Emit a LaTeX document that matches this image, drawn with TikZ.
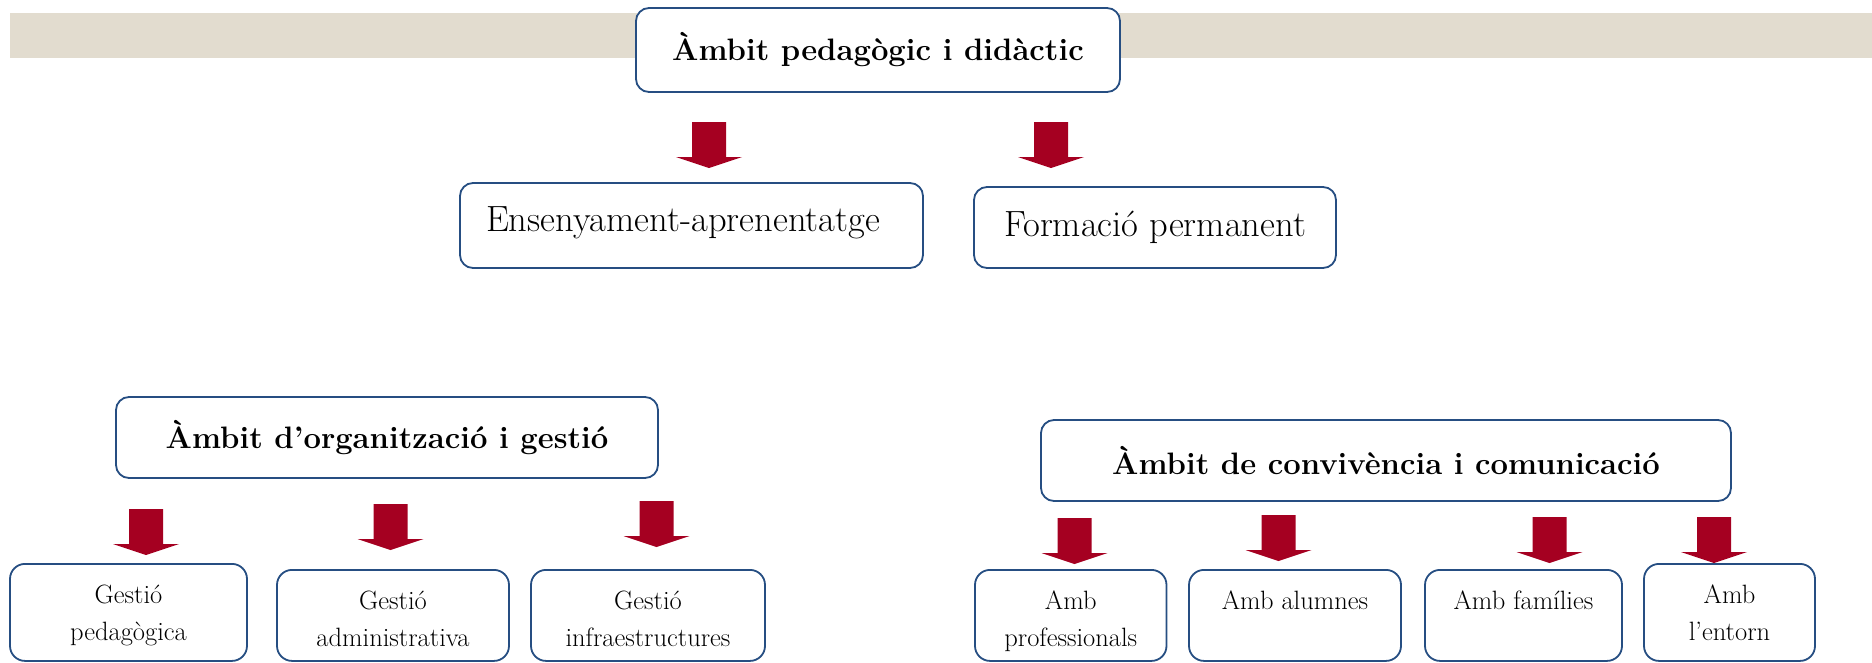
\documentclass[tikz,border=0pt]{standalone}
\usepackage{fontspec}
\usetikzlibrary{positioning}

\definecolor{boxblue}{RGB}{38,78,130}
\definecolor{arrowred}{RGB}{165,0,33}
\definecolor{bandbeige}{RGB}{226,220,207}

\tikzset{
  ambit/.style={draw=boxblue, line width=1.8pt, rounded corners=13pt, fill=white,
    inner sep=0pt, font=\fontsize{31}{36}\selectfont\bfseries},
  subambit/.style={draw=boxblue, line width=1.8pt, rounded corners=13pt, fill=white,
    inner sep=0pt, minimum height=81pt, font=\fontsize{36.5}{40}\selectfont},
  leaf/.style={draw=boxblue, line width=1.8pt, rounded corners=15pt, fill=white,
    anchor=north, align=center, inner xsep=4pt, inner ysep=5pt,
    text height=35pt, text depth=46pt, font=\fontsize{26.5}{37}\selectfont},
  twoleaf/.style={leaf, text height=72pt, text depth=9pt},
  talleaf/.style={leaf, text height=72pt, text depth=15pt},
  downarrow/.pic={\fill[arrowred] (-17,0) -- (17,0) -- (17,35) -- (33,35) -- (0,46)
    -- (-33,35) -- (-17,35) -- cycle;}
}

\begin{document}
\begin{tikzpicture}[x=1pt,y=-1pt]
\useasboundingbox (0,0) rectangle (1872,662);
\clip (0,0) rectangle (1872,662);
% franja de fons
\fill[bandbeige] (9.5,12.7) rectangle (1872,57.7);
% ambit pedagogic
\node[ambit, minimum width=484pt, minimum height=84pt] (ped) at (878,50) {Àmbit pedagògic i didàctic};
\pic (arrEns) at (709,122) {downarrow};
\pic (arrFor) at (1051,122) {downarrow};
\node[subambit, inner xsep=26pt, text width=411pt, align=left, text height=48.5pt, text depth=36.5pt] (ens) at (691.5,225.5) {Ensenyament-aprenentatge};
\node[subambit, minimum width=362pt] (for) at (1155,227.5) {Formació permanent};
% ambit d'organitzacio
\node[ambit, minimum width=542pt, minimum height=81pt] (org) at (387,437.5) {Àmbit d’organització i gestió};
\pic (arrPed) at (146,509) {downarrow};
\pic (arrAdm) at (390.5,504) {downarrow};
\pic (arrInf) at (656.5,501) {downarrow};
\node[talleaf, minimum width=237pt] (gped) at (128.5,563) {Gestió\\pedagògica};
\node[twoleaf, minimum width=232pt] (gadm) at (393,569) {Gestió\\administrativa};
\node[twoleaf, minimum width=234pt] (ginf) at (648,569) {Gestió\\infraestructures};
% ambit de convivencia
\node[ambit, minimum width=690pt, minimum height=81pt] (con) at (1386,460.5) {Àmbit de convivència i comunicació};
\pic (arrPro) at (1074.5,518) {downarrow};
\pic (arrAlu) at (1278.5,515) {downarrow};
\pic (arrFam) at (1549.5,517) {downarrow};
\pic (arrEnt) at (1714,517) {downarrow};
\node[twoleaf, minimum width=191.5pt] (apro) at (1070.75,569) {Amb\\professionals};
\node[leaf, minimum width=212pt] (aalu) at (1295,569) {Amb alumnes};
\node[leaf, minimum width=197pt] (afam) at (1523.5,569) {Amb famílies};
\node[talleaf, minimum width=171pt] (aent) at (1729.5,563) {Amb\\l’entorn};
\end{tikzpicture}
\end{document}
